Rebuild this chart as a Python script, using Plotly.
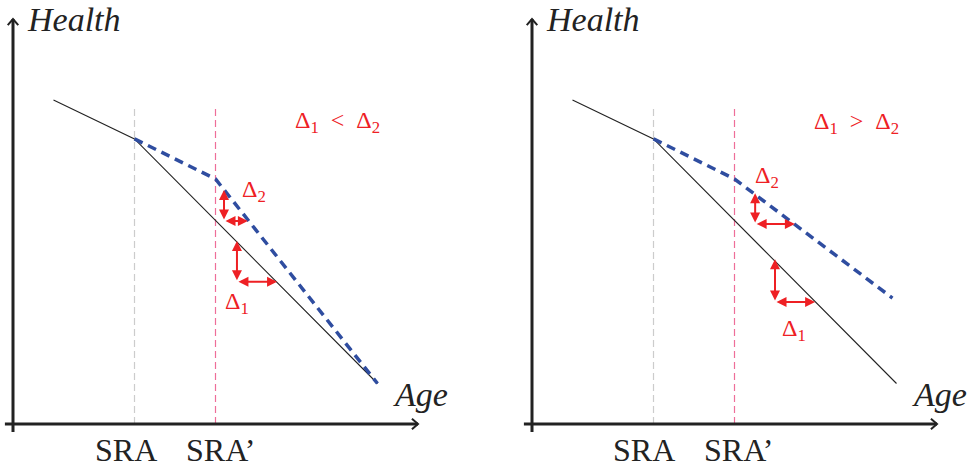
import plotly.graph_objects as go

# ---------------- data (schematic units: axes run 0..100) ----------------
age_base = [10, 30, 90]
health_base = [80, 70.4, 10]
sra, sra_new = 30, 50
vline_top = 78.3

left_age_reform = [30, 50, 90]
left_health_reform = [70.4, 60.5, 10]
right_age_reform = [30, 50, 89]
right_health_reform = [70.4, 60.5, 31.1]

# delta arrows: (corner_x, corner_y, top_y, right_x)
left_d2 = (52.1, 50.1, 57.8, 58.0)
left_d1 = (55.3, 35.1, 45.2, 65.2)
right_d2 = (55.1, 49.4, 57.0, 64.9)
right_d1 = (60.0, 30.1, 40.7, 69.9)

left_d2_label = (59.5, 57.6)
left_d1_label = (55.3, 29.9)
left_cmp_label = (80.2, 74.6)
right_d2_label = (58.0, 61.0)
right_d1_label = (64.8, 23.2)
right_cmp_label = (80.0, 74.4)

cmp_texts = ["Δ<sub>1</sub>&nbsp;&nbsp;&lt;&nbsp;&nbsp;Δ<sub>2</sub>",
             "Δ<sub>1</sub>&nbsp;&nbsp;&gt;&nbsp;&nbsp;Δ<sub>2</sub>"]
tick_labels = ["SRA", "SRA’"]
tick_label_x = [[27.9, 51.3], [27.6, 51.0]]

# ---------------- layout geometry ----------------
W, H = 973, 468
PX = 4.05  # pixels per unit
origins = [13, 532]
origin_y = 424

BLACK = "#222222"
RED = "#EE2024"
BLUE = "#2F4DA0"
PINK = "#EE6E99"
GRAY = "#CCCCCC"
SERIF = "Liberation Serif"

fig = go.Figure()

def xr(panel):
    ox = origins[panel]
    if panel == 0:
        return [(0 - ox) / PX, (W / 2 - ox) / PX]
    return [(W / 2 - ox) / PX, (W - ox) / PX]

yrange = [(origin_y - H) / PX, origin_y / PX]

panels = [
    (left_age_reform, left_health_reform, left_d2, left_d1,
     left_d2_label, left_d1_label, left_cmp_label),
    (right_age_reform, right_health_reform, right_d2, right_d1,
     right_d2_label, right_d1_label, right_cmp_label),
]

annotations = []
for i, (ra, rh, d2, d1, d2l, d1l, cmpl) in enumerate(panels):
    xa = "x" if i == 0 else "x2"
    ya = "y" if i == 0 else "y2"
    common = dict(xaxis=xa, yaxis=ya, showlegend=False, hoverinfo="skip",
                  cliponaxis=False)
    # vertical reference lines
    fig.add_trace(go.Scatter(x=[sra, sra], y=[0, vline_top], mode="lines",
                             line=dict(color=GRAY, width=1.2, dash="7px,4px"), **common))
    fig.add_trace(go.Scatter(x=[sra_new, sra_new], y=[0, vline_top], mode="lines",
                             line=dict(color=PINK, width=1.2, dash="7px,4px"), **common))
    # baseline health
    fig.add_trace(go.Scatter(x=age_base, y=health_base, mode="lines",
                             line=dict(color=BLACK, width=1.1), **common))
    # reform health
    fig.add_trace(go.Scatter(x=ra, y=rh, mode="lines",
                             line=dict(color=BLUE, width=3.5, dash="9px,6px"), **common))
    # axes
    fig.add_trace(go.Scatter(x=[-2, 100], y=[0, 0], mode="lines",
                             line=dict(color=BLACK, width=3), **common))
    fig.add_trace(go.Scatter(x=[0, 0], y=[-2, 100], mode="lines",
                             line=dict(color=BLACK, width=3), **common))
    # chevrons
    fig.add_trace(go.Scatter(x=[98.5, 100, 98.5], y=[1.3, 0, -1.3], mode="lines",
                             line=dict(color=BLACK, width=2), **common))
    fig.add_trace(go.Scatter(x=[-1.3, 0, 1.3], y=[98.5, 100, 98.5], mode="lines",
                             line=dict(color=BLACK, width=2), **common))

    # delta arrows
    for (cx, cy, ty, rx) in (d2, d1):
        annotations.append(dict(x=cx, y=ty, ax=cx, ay=cy, xref=xa, yref=ya,
                                axref=xa, ayref=ya, showarrow=True,
                                arrowside="end+start", arrowhead=2, arrowsize=1,
                                arrowwidth=2, arrowcolor=RED, text=""))
        annotations.append(dict(x=rx, y=cy, ax=cx, ay=cy, xref=xa, yref=ya,
                                axref=xa, ayref=ya, showarrow=True,
                                arrowside="end+start", arrowhead=2, arrowsize=1,
                                arrowwidth=2, arrowcolor=RED, text=""))
    # delta labels
    annotations.append(dict(x=d2l[0], y=d2l[1], xref=xa, yref=ya, showarrow=False,
                            text="Δ<sub>2</sub>", font=dict(family=SERIF, size=24, color=RED)))
    annotations.append(dict(x=d1l[0], y=d1l[1], xref=xa, yref=ya, showarrow=False,
                            text="Δ<sub>1</sub>", font=dict(family=SERIF, size=24, color=RED)))
    annotations.append(dict(x=cmpl[0], y=cmpl[1], xref=xa, yref=ya, showarrow=False,
                            text=cmp_texts[i], font=dict(family=SERIF, size=24, color=RED)))
    # axis titles
    annotations.append(dict(x=3.0, y=99.8, xref=xa, yref=ya, showarrow=False,
                            xanchor="left", text="<i>Health</i>",
                            font=dict(family=SERIF, size=34, color=BLACK)))
    annotations.append(dict(x=100.6, y=7.4, xref=xa, yref=ya, showarrow=False,
                            text="<i>Age</i>",
                            font=dict(family=SERIF, size=34, color=BLACK)))
    # tick labels
    for lbl, lx in zip(tick_labels, tick_label_x[i]):
        annotations.append(dict(x=lx, y=-6.3, xref=xa, yref=ya, showarrow=False,
                                text=lbl, font=dict(family=SERIF, size=32, color=BLACK)))

fig.update_layout(
    width=W, height=H, margin=dict(l=0, r=0, t=0, b=0),
    paper_bgcolor="white", plot_bgcolor="white",
    xaxis=dict(domain=[0, 0.5], range=xr(0), visible=False, fixedrange=True),
    xaxis2=dict(domain=[0.5, 1], range=xr(1), visible=False, fixedrange=True),
    yaxis=dict(domain=[0, 1], range=yrange, visible=False, fixedrange=True),
    yaxis2=dict(domain=[0, 1], range=yrange, visible=False, fixedrange=True,
                anchor="x2"),
    annotations=annotations,
    showlegend=False,
)

fig.write_html("out.html", config={"displayModeBar": False},
               post_script="document.body.style.margin='0px';document.body.style.overflow='hidden';")
